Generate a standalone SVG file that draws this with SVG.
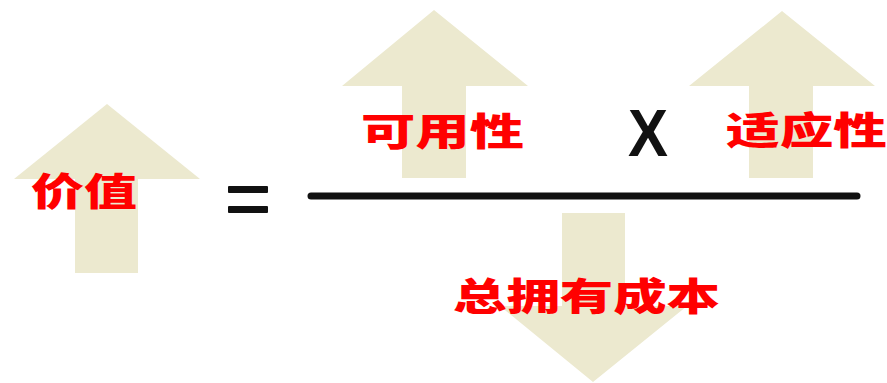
<svg xmlns="http://www.w3.org/2000/svg" width="887" height="383" viewBox="0 0 887 383">
<style>
.arrow{fill:#ECE9CF}
.lbl{font-family:"Noto Sans CJK SC","Noto Sans CJK TC",sans-serif;font-weight:900;font-size:38px;fill:#FF0000}
.op{fill:#111111}
</style>
<rect width="887" height="383" fill="#FFFFFF"/>
<g id="arrow-value">
<polygon class="arrow" points="107,104 200,179 138,179 138,273 75,273 75,179 14,179"/>
<text class="lbl" x="31" y="205" textLength="106" lengthAdjust="spacingAndGlyphs">价值</text>
</g>
<g id="equals">
<rect class="op" x="228" y="186" width="40" height="7" rx="1"/>
<rect class="op" x="228" y="206" width="40" height="7" rx="1"/>
</g>
<g id="arrow-availability">
<polygon class="arrow" points="434,10 528,86 466,86 466,178 402,178 402,86 342,86"/>
<text class="lbl" x="361" y="145" textLength="163" lengthAdjust="spacingAndGlyphs">可用性</text>
</g>
<g id="times">
<text x="648" y="156" text-anchor="middle" font-family="Liberation Sans, Arial, sans-serif" font-weight="bold" font-size="66" fill="#111111" textLength="40" lengthAdjust="spacingAndGlyphs">X</text>
</g>
<g id="arrow-adaptability">
<polygon class="arrow" points="782,11 875,86 813,86 813,178 749,178 749,86 689,86"/>
<text class="lbl" x="726" y="144" textLength="161" lengthAdjust="spacingAndGlyphs">适应性</text>
</g>
<g id="connectors">
<line x1="311" y1="196" x2="857" y2="196" stroke="#111111" stroke-width="7" stroke-linecap="round"/>
</g>
<g id="arrow-tco">
<polygon class="arrow" points="562,213 625,213 625,306 687,306 593,382 500,306 562,306"/>
<text class="lbl" x="453" y="310" textLength="267" lengthAdjust="spacingAndGlyphs">总拥有成本</text>
</g>
</svg>
